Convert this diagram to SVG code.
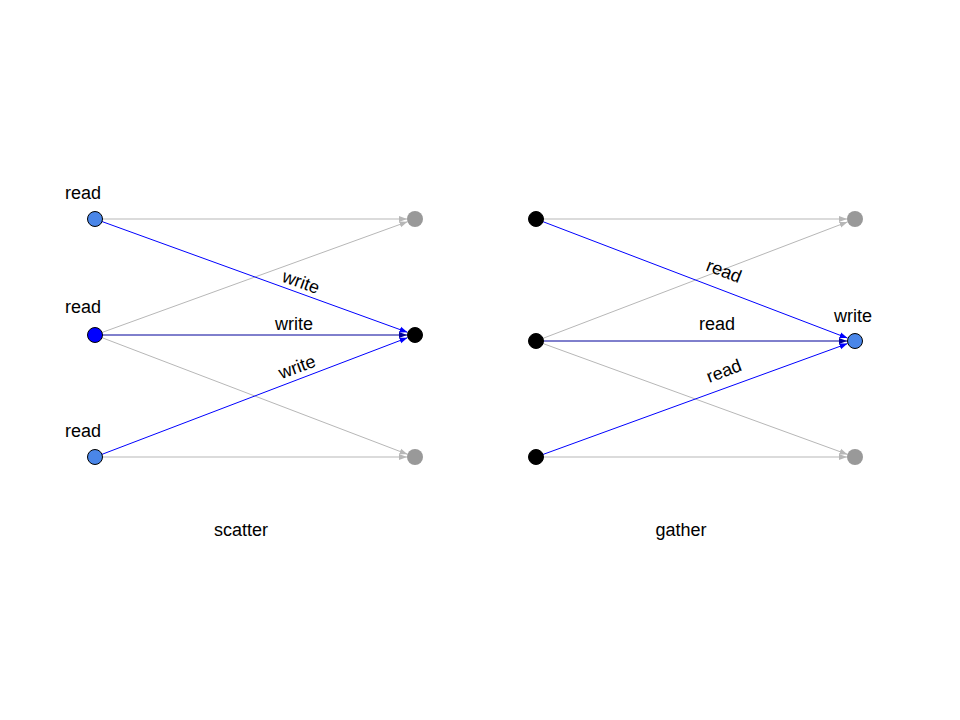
<svg xmlns="http://www.w3.org/2000/svg" width="960" height="720" viewBox="0 0 960 720">
<style>
text{font-family:"Liberation Sans",Arial,sans-serif;font-size:18px;fill:#000;text-anchor:middle}
.g{stroke:#b7b7b7;stroke-width:1;fill:none}
.b{stroke:#0000ff;stroke-width:1;fill:none}
.d{stroke:#00009a;stroke-width:1;fill:none}
.lb{fill:#4a86e8;stroke:#000;stroke-width:1}
.bl{fill:#0000ff;stroke:#000;stroke-width:1}
.k{fill:#000;stroke:#000;stroke-width:1}
.gr{fill:#999999}
</style>
<defs>
<marker id="ag" markerUnits="userSpaceOnUse" markerWidth="9" markerHeight="8" refX="8" refY="4" orient="auto"><path d="M0,1 L8,4 L0,7 Z" fill="#b7b7b7"/></marker>
<marker id="ab" markerUnits="userSpaceOnUse" markerWidth="9" markerHeight="8" refX="8" refY="4" orient="auto"><path d="M0,1 L8,4 L0,7 Z" fill="#0000ff"/></marker>
<marker id="ad" markerUnits="userSpaceOnUse" markerWidth="9" markerHeight="8" refX="8" refY="4" orient="auto"><path d="M0,1 L8,4 L0,7 Z" fill="#00009a"/></marker>
</defs>
<g id="connectors">
<line class="g" x1="95" y1="219" x2="407" y2="219" marker-end="url(#ag)"/>
<line class="g" x1="95" y1="335" x2="407.5" y2="221.7" marker-end="url(#ag)"/>
<line class="g" x1="95" y1="335" x2="407.5" y2="454.3" marker-end="url(#ag)"/>
<line class="g" x1="95" y1="457" x2="407" y2="457" marker-end="url(#ag)"/>
<line class="b" x1="95" y1="219" x2="407.5" y2="332.3" marker-end="url(#ab)"/>
<line class="b" x1="95" y1="457" x2="407.5" y2="337.7" marker-end="url(#ab)"/>
<line class="d" x1="95" y1="335" x2="407" y2="335" marker-end="url(#ad)"/>
<line class="g" x1="536" y1="219" x2="847" y2="219" marker-end="url(#ag)"/>
<line class="g" x1="536" y1="341" x2="847.5" y2="221.9" marker-end="url(#ag)"/>
<line class="g" x1="536" y1="341" x2="847.5" y2="454.4" marker-end="url(#ag)"/>
<line class="g" x1="536" y1="457" x2="847" y2="457" marker-end="url(#ag)"/>
<line class="b" x1="536" y1="219" x2="847.5" y2="338.1" marker-end="url(#ab)"/>
<line class="b" x1="536" y1="457" x2="847.5" y2="343.6" marker-end="url(#ab)"/>
<line class="d" x1="536" y1="341" x2="847" y2="341" marker-end="url(#ad)"/>
<text x="301" y="288" transform="rotate(20 301 282)">write</text>
<text x="294" y="330">write</text>
<text x="297" y="373" transform="rotate(-20 297 367)">write</text>
<text x="724" y="277" transform="rotate(21 724 271)">read</text>
<text x="717" y="330">read</text>
<text x="724" y="377" transform="rotate(-21 724 371)">read</text>
</g>
<g id="s1"><circle class="lb" cx="95" cy="219" r="7.5"/><text x="83" y="199">read</text></g>
<g id="s2"><circle class="bl" cx="95" cy="335" r="7.5"/><text x="83" y="313">read</text></g>
<g id="s3"><circle class="lb" cx="95" cy="457" r="7.5"/><text x="83" y="437">read</text></g>
<g id="t1"><circle class="gr" cx="415" cy="219" r="8"/></g>
<g id="t2"><circle class="k" cx="415" cy="335" r="7.5"/></g>
<g id="t3"><circle class="gr" cx="415" cy="457" r="8"/></g>
<g id="g1"><circle class="k" cx="536" cy="219" r="7.5"/></g>
<g id="g2"><circle class="k" cx="536" cy="341" r="7.5"/></g>
<g id="g3"><circle class="k" cx="536" cy="457" r="7.5"/></g>
<g id="h1"><circle class="gr" cx="855" cy="219" r="8"/></g>
<g id="h2"><circle class="lb" cx="855" cy="341" r="7.5"/><text x="853" y="322">write</text></g>
<g id="h3"><circle class="gr" cx="855" cy="457" r="8"/></g>
<g id="cap1"><text x="241" y="536">scatter</text></g>
<g id="cap2"><text x="681" y="536">gather</text></g>
</svg>
